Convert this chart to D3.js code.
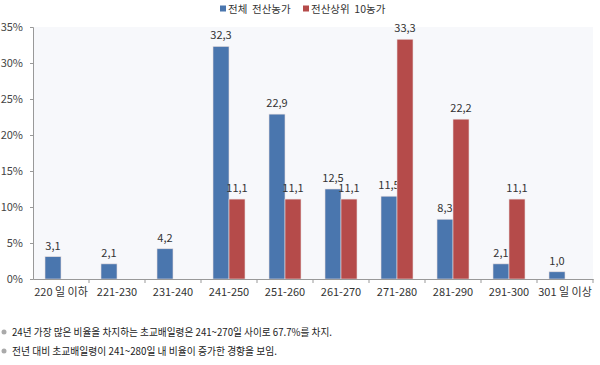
<!DOCTYPE html>
<html><head><meta charset="utf-8">
<script src="https://cdn.jsdelivr.net/npm/d3@7"></script>
<style>body{margin:0;background:#fff}svg{display:block}text{font-family:"Noto Sans CJK KR","Noto Sans",sans-serif}</style>
</head><body><svg id="c" width="600" height="365"></svg>
<script>
const categories = ["220 일 이하","221-230","231-240","241-250","251-260","261-270","271-280","281-290","291-300","301 일 이상"];
const seriesNames = ["전체  전산농가","전산상위  10농가"];
const allFarms = [3.1,2.1,4.2,32.3,22.9,12.5,11.5,8.3,2.1,1.0];
const top10 = [null,null,null,11.1,11.1,11.1,33.3,22.2,11.1,null];
const yTicks = [0,5,10,15,20,25,30,35];
const notes = ["24년 가장 많은 비율을 차지하는 초교배일령은 241~270일 사이로 67.7%를 차지.","전년 대비 초교배일령이 241~280일 내 비율이 증가한 경향을 보임."];
const colors = ["#4a76ae","#b54b4a"];

const svg = d3.select("#c");
const m = {l:33, r:7, t:27, b:86};
const W = 600, H = 365;
const x = d3.scaleBand().domain(categories).range([m.l, W-m.r]).paddingInner(0).paddingOuter(0);
const y = d3.scaleLinear().domain([0,35]).range([H-m.b, m.t]);
const bw = 16;

svg.append("rect").attr("x",m.l).attr("y",m.t).attr("width",W-m.r-m.l).attr("height",y(0)-m.t).attr("fill","#f7f8fb");

const series = [allFarms, top10];
series.forEach((vals,si)=>{
  const g = svg.append("g");
  categories.forEach((c,i)=>{
    const v = vals[i];
    if(v==null) return;
    const cx = x(c)+x.bandwidth()/2;
    const bx = si===0 ? cx-bw : cx;
    g.append("rect").attr("x",bx).attr("y",y(v)).attr("width",bw).attr("height",y(0)-y(v))
      .attr("fill",colors[si]).attr("stroke","#e8dede").attr("stroke-width",0.6);
    g.append("text").attr("x",bx+bw/2).attr("y",y(v)-7).attr("text-anchor","middle")
      .attr("font-size",11).attr("fill","#333").text(v.toFixed(1).replace(".",","));
  });
});

// y axis
const ya = svg.append("g").attr("transform",`translate(${m.l},0)`)
  .call(d3.axisLeft(y).tickValues(yTicks).tickFormat(d=>d+"%").tickSize(3).tickPadding(7));
ya.select(".domain").attr("stroke","#999");
ya.selectAll(".tick line").attr("stroke","#999");
ya.selectAll("text").attr("font-size",11).attr("fill","#444").attr("font-family","Liberation Sans, Arial, sans-serif");

// x axis
const xa = svg.append("g").attr("transform",`translate(0,${y(0)})`)
  .call(d3.axisBottom(x).tickSize(0).tickPadding(9));
xa.select(".domain").attr("stroke","#999");
xa.selectAll("text").attr("font-size",11).attr("fill","#333");
svg.append("g").selectAll("line").data(categories.slice(1).concat(["end"])).join("line")
  .attr("x1",(d,i)=>m.l+(i+1)*x.bandwidth()).attr("x2",(d,i)=>m.l+(i+1)*x.bandwidth())
  .attr("y1",y(0)).attr("y2",y(0)+4).attr("stroke","#999");

// legend
const lg = [{x:220,t:seriesNames[0]},{x:303,t:seriesNames[1]}];
lg.forEach((d,i)=>{
  svg.append("rect").attr("x",d.x).attr("y",5.5).attr("width",6).attr("height",6).attr("fill",colors[i]);
  svg.append("text").attr("x",d.x+8).attr("y",13).attr("font-size",10.5).attr("fill","#333").attr("xml:space","preserve").text(d.t);
});

// notes
const noteLen = [320, 265];
notes.forEach((n,i)=>{
  const yy = 333 + i*19;
  svg.append("circle").attr("cx",4).attr("cy",yy-1).attr("r",2.5).attr("fill","#aaa");
  svg.append("text").attr("x",12).attr("y",yy+3).attr("font-size",10.5).attr("fill","#222")
    .attr("textLength",noteLen[i]).attr("lengthAdjust","spacingAndGlyphs").text(n);
});
</script></body></html>
